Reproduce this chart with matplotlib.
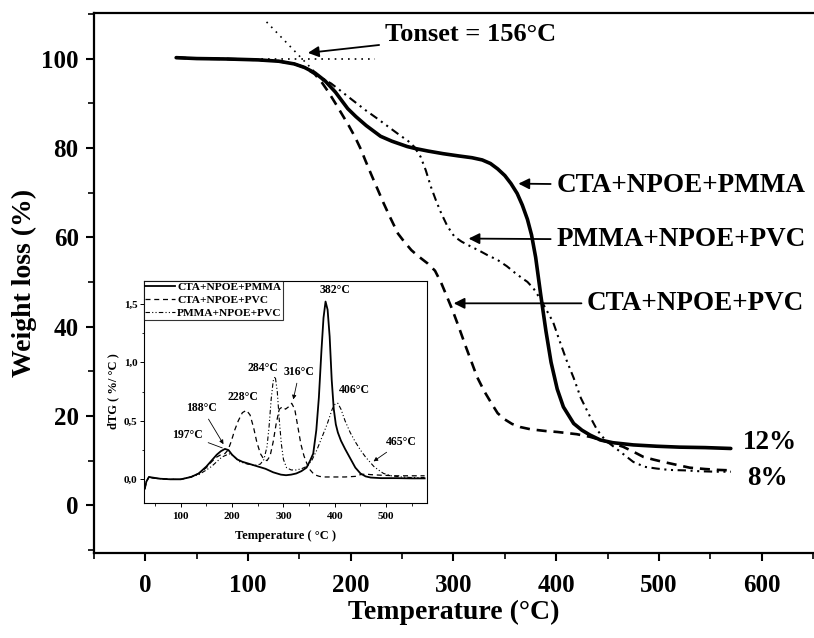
import matplotlib
matplotlib.use("Agg")
import matplotlib.pyplot as plt
from matplotlib.ticker import MultipleLocator, FuncFormatter

plt.rcParams['font.family'] = ['Liberation Serif', 'DejaVu Serif']
plt.rcParams['font.weight'] = 'bold'

# ---------------- main TGA data ----------------
t_pmma = [30, 50, 80, 110, 130, 145, 155, 165, 175, 185, 197, 205, 215, 229, 240, 255, 262, 275, 290,
          305, 318, 328, 336, 343, 350, 356, 362, 367, 372, 376, 380, 385, 390, 395, 401, 407, 417,
          425, 433, 443, 455, 475, 498, 520, 545, 570]
w_pmma = [100.2, 100.0, 99.9, 99.7, 99.4, 98.8, 98.0, 96.8, 95.0, 92.5, 88.8, 87.0, 85.0, 82.6, 81.5,
          80.3, 79.9, 79.3, 78.7, 78.2, 77.8, 77.3, 76.5, 75.3, 73.8, 72.0, 69.8, 67.2, 64.0, 60.5,
          55.5, 47.0, 39.0, 32.0, 26.0, 22.0, 18.3, 16.8, 15.7, 14.6, 14.0, 13.5, 13.2, 13.0, 12.9, 12.7]

t_cta_pvc = [30, 50, 80, 110, 130, 145, 155, 165, 172, 178, 185, 191, 198, 204, 210, 214, 220, 226, 232,
             238, 246, 252, 259, 266, 275, 282, 288, 294, 299, 305, 312, 318, 323, 330, 337, 343, 350,
             357, 365, 375, 390, 401, 420, 433, 445, 455, 465, 475, 485, 495, 504, 518, 530, 545, 558, 570]
w_cta_pvc = [100.2, 100.0, 99.9, 99.7, 99.4, 98.8, 98.0, 96.5, 94.6, 92.6, 90.0, 87.7, 85.0, 82.5, 79.6,
             77.3, 74.0, 70.8, 67.6, 64.6, 60.8, 59.0, 57.1, 55.7, 54.1, 52.5, 49.8, 46.5, 43.7, 40.0,
             35.5, 31.8, 28.7, 25.5, 22.8, 20.6, 19.2, 18.2, 17.5, 17.0, 16.6, 16.4, 15.9, 15.3, 14.5,
             13.8, 13.1, 12.0, 10.8, 10.2, 9.7, 9.0, 8.4, 8.1, 7.9, 7.8]

t_pmma_pvc = [30, 50, 80, 110, 130, 145, 155, 165, 172, 181, 190, 200, 214, 225, 235, 245, 256, 262, 268,
              273, 278, 283, 288, 294, 301, 308, 317, 325, 333, 343, 352, 360, 367, 372, 378, 385, 391,
              397, 403, 410, 417, 424, 433, 440, 448, 456, 465, 475, 486, 498, 510, 525, 540, 555, 570]
w_pmma_pvc = [100.2, 100.0, 99.9, 99.7, 99.4, 98.8, 98.0, 96.8, 95.6, 94.4, 92.8, 91.0, 88.5, 86.7, 85.0,
              83.3, 81.5, 80.2, 78.0, 75.0, 71.3, 68.2, 65.4, 62.5, 60.1, 59.0, 57.9, 57.0, 56.0, 54.9,
              53.5, 52.0, 50.8, 50.0, 48.5, 46.0, 43.5, 41.0, 37.0, 32.5, 28.5, 24.0, 19.8, 16.8, 14.5,
              13.1, 11.5, 9.7, 8.6, 8.2, 7.9, 7.8, 7.6, 7.5, 7.5]

tangent_x = [118, 175]
tangent_y = [108.2, 94.6]
baseline_x = [100, 224]
baseline_y = [100, 100]

# ---------------- inset dTG data ----------------
dt_pmma_t = [30, 33, 38, 45, 60, 80, 100, 120, 135, 150, 160, 170, 178, 186, 193, 200, 210, 220, 235, 250,
             265, 280, 295, 305, 315, 325, 335, 345, 352, 358, 364, 369, 374, 378, 382, 386, 390, 394,
             398, 402, 406, 412, 420, 430, 440, 450, 460, 470, 490, 520, 550, 575]
dt_pmma_y = [-0.08, -0.02, 0.02, 0.015, 0.005, 0.0, 0.0, 0.02, 0.05, 0.11, 0.16, 0.21, 0.24, 0.26, 0.25,
             0.21, 0.17, 0.15, 0.13, 0.11, 0.09, 0.06, 0.04, 0.035, 0.04, 0.05, 0.07, 0.1, 0.16, 0.22,
             0.42, 0.7, 1.1, 1.38, 1.52, 1.45, 1.22, 0.85, 0.6, 0.47, 0.40, 0.33, 0.26, 0.18, 0.1, 0.05,
             0.025, 0.015, 0.01, 0.01, 0.008, 0.008]

dt_ctapvc_t = [30, 33, 38, 45, 60, 80, 100, 120, 135, 150, 160, 170, 178, 186, 192, 198, 205, 212, 220,
               228, 235, 242, 248, 255, 262, 268, 274, 280, 286, 292, 298, 304, 310, 316, 322, 328, 334,
               340, 346, 352, 360, 370, 380, 400, 420, 440, 450, 460, 470, 490, 520, 550, 575]
dt_ctapvc_y = [-0.08, -0.02, 0.02, 0.01, 0.005, 0.0, 0.0, 0.02, 0.05, 0.1, 0.15, 0.19, 0.21, 0.22, 0.25,
               0.32, 0.42, 0.5, 0.57, 0.59, 0.55, 0.44, 0.32, 0.22, 0.17, 0.16, 0.2, 0.32, 0.48, 0.6,
               0.62, 0.6, 0.62, 0.65, 0.6, 0.45, 0.3, 0.2, 0.13, 0.08, 0.04, 0.025, 0.02, 0.02, 0.02,
               0.025, 0.04, 0.045, 0.04, 0.035, 0.03, 0.03, 0.03]

dt_pmmapvc_t = [30, 33, 38, 45, 60, 80, 100, 120, 135, 150, 160, 170, 180, 190, 197, 205, 215, 230, 245,
                255, 262, 268, 272, 276, 280, 284, 288, 292, 296, 300, 306, 315, 325, 335, 345, 355, 365,
                375, 385, 395, 400, 406, 412, 420, 430, 440, 450, 460, 468, 476, 485, 495, 510, 530, 550, 575]
dt_pmmapvc_y = [-0.08, -0.02, 0.02, 0.01, 0.005, 0.0, 0.0, 0.02, 0.04, 0.08, 0.11, 0.15, 0.19, 0.21, 0.22,
                0.19, 0.15, 0.13, 0.12, 0.13, 0.17, 0.28, 0.45, 0.68, 0.84, 0.88, 0.75, 0.5, 0.3, 0.17,
                0.1, 0.08, 0.08, 0.09, 0.11, 0.16, 0.25, 0.36, 0.47, 0.6, 0.64, 0.65, 0.6, 0.5, 0.4,
                0.32, 0.25, 0.19, 0.15, 0.11, 0.08, 0.05, 0.03, 0.02, 0.015, 0.015]

series_names = ["CTA+NPOE+PMMA", "CTA+NPOE+PVC", "PMMA+NPOE+PVC"]
peak_labels = ["382°C", "284°C", "316°C", "228°C", "188°C", "197°C", "406°C", "465°C"]

# ---------------- figure ----------------
fig = plt.figure(figsize=(8.14, 6.38), dpi=100)
ax = fig.add_axes([94/814, 1-553/638, 1 - 94/814, (553-13)/638])
ax.set_xlim(-50, 651)
ax.set_ylim(-10.7, 110.2)

ax.plot(t_pmma, w_pmma, color='black', lw=2.6, solid_capstyle='round')
ax.plot(t_cta_pvc, w_cta_pvc, color='black', lw=1.9, dashes=(3.8, 2.6))
ax.plot(t_pmma_pvc, w_pmma_pvc, color='black', lw=1.5, dashes=(4, 2.2, 1, 2.2, 1, 2.2))
ax.plot(tangent_x, tangent_y, color='black', lw=1.2, dashes=(1, 3))
ax.plot(baseline_x, baseline_y, color='black', lw=1.2, dashes=(1, 3))

ax.spines['right'].set_visible(False)
for s in ['left', 'bottom', 'top']:
    ax.spines[s].set_linewidth(1.6)
ax.xaxis.set_major_locator(MultipleLocator(100))
ax.xaxis.set_minor_locator(MultipleLocator(50))
ax.yaxis.set_major_locator(MultipleLocator(20))
ax.yaxis.set_minor_locator(MultipleLocator(10))
ax.tick_params(which='major', direction='out', length=6, width=1.5, labelsize=18)
ax.tick_params(axis='x', which='major', pad=9)
ax.tick_params(axis='y', which='major', pad=5)
ax.tick_params(which='minor', direction='out', length=4, width=1.2)
ax.tick_params(axis='x', which='both', top=False)
ax.tick_params(axis='y', which='both', right=False)
for lab in ax.get_xticklabels() + ax.get_yticklabels():
    lab.set_fontweight('bold')
ax.set_xlabel("Temperature (°C)", fontsize=20, fontweight='bold', labelpad=2)
ax.set_ylabel("Weight loss (%)", fontsize=20, fontweight='bold', labelpad=3)

arrow_kw = dict(arrowstyle='-|>', color='black', lw=1.3, mutation_scale=16)
ax.annotate("Tonset = 156°C", xy=(155.6, 101.2), xytext=(233, 105.3), fontsize=19, fontweight='bold',
            va='center', ha='left', arrowprops=arrow_kw)
ax.annotate(series_names[0], xy=(360.5, 72), xytext=(400, 71.6), fontsize=19.5, fontweight='bold',
            va='center', ha='left', arrowprops=arrow_kw)
ax.annotate(series_names[2], xy=(312, 59.7), xytext=(400, 59.4), fontsize=19.5, fontweight='bold',
            va='center', ha='left', arrowprops=arrow_kw)
ax.annotate(series_names[1], xy=(297.5, 45.2), xytext=(430, 45.2), fontsize=19.5, fontweight='bold',
            va='center', ha='left', arrowprops=arrow_kw)
ax.text(582, 14.0, "12%", fontsize=19.5, fontweight='bold', va='center', ha='left')
ax.text(586, 6.0, "8%", fontsize=19.5, fontweight='bold', va='center', ha='left')

# ---------------- inset ----------------
ins = fig.add_axes([144.3/814, 1-502.7/638, (426.7-144.3)/814, (502.7-280.5)/638])
ins.set_xlim(29, 579)
ins.set_ylim(-0.2, 1.7)
l1, = ins.plot(dt_pmma_t, dt_pmma_y, color='black', lw=1.3)
l2, = ins.plot(dt_ctapvc_t, dt_ctapvc_y, color='black', lw=0.9, dashes=(4, 3))
l3, = ins.plot(dt_pmmapvc_t, dt_pmmapvc_y, color='black', lw=0.8, dashes=(4, 2, 1, 2, 1, 2))
for s in ins.spines.values():
    s.set_linewidth(0.8)
ins.xaxis.set_major_locator(MultipleLocator(100))
ins.xaxis.set_minor_locator(MultipleLocator(50))
ins.yaxis.set_major_locator(MultipleLocator(0.5))
ins.yaxis.set_minor_locator(MultipleLocator(0.25))
ins.yaxis.set_major_formatter(FuncFormatter(lambda v, p: f"{v:.1f}".replace('.', ',')))
ins.tick_params(which='major', direction='out', length=3, width=0.7, labelsize=8, pad=2)
ins.tick_params(axis='x', which='major', pad=4)
ins.tick_params(which='minor', direction='out', length=1.8, width=0.6)
ins.tick_params(axis='x', which='both', top=False)
ins.tick_params(axis='y', which='both', right=False)
for lab in ins.get_xticklabels() + ins.get_yticklabels():
    lab.set_fontweight('bold')
ins.set_xlabel("Temperature ( °C )", fontsize=9, fontweight='bold', labelpad=6)
ins.set_ylabel("dTG ( %/ °C )", fontsize=9, fontweight='bold', labelpad=3)
leg = ins.legend([l1, l2, l3], series_names, loc='upper left', frameon=True,
                 fancybox=False, edgecolor='black', borderpad=0.1, labelspacing=0.3,
                 handlelength=2.6, handletextpad=0.2, borderaxespad=0.0,
                 prop={'weight': 'bold', 'size': 8.2})
leg.get_frame().set_linewidth(0.8)

small_arrow = dict(arrowstyle='-|>', color='black', lw=0.6, mutation_scale=6)
fs = 8.5
ins.text(400.8, 1.62, peak_labels[0], fontsize=fs, fontweight='bold', ha='center', va='center')
ins.text(261, 0.95, peak_labels[1], fontsize=fs, fontweight='bold', ha='center', va='center')
ins.annotate(peak_labels[2], xy=(318, 0.66), xytext=(331, 0.92), fontsize=fs, fontweight='bold',
             ha='center', va='center', arrowprops=small_arrow)
ins.text(222, 0.70, peak_labels[3], fontsize=fs, fontweight='bold', ha='center', va='center')
ins.annotate(peak_labels[4], xy=(186, 0.28), xytext=(141, 0.61), fontsize=fs, fontweight='bold',
             ha='center', va='center', arrowprops=small_arrow)
ins.annotate(peak_labels[5], xy=(186, 0.26), xytext=(113, 0.38), fontsize=fs, fontweight='bold',
             ha='center', va='center', arrowprops=dict(arrowstyle='-', color='black', lw=0.6))
ins.text(438, 0.765, peak_labels[6], fontsize=fs, fontweight='bold', ha='center', va='center')
ins.annotate(peak_labels[7], xy=(471, 0.14), xytext=(530, 0.32), fontsize=fs, fontweight='bold',
             ha='center', va='center', arrowprops=small_arrow)

fig.savefig("out.png", dpi=100)
